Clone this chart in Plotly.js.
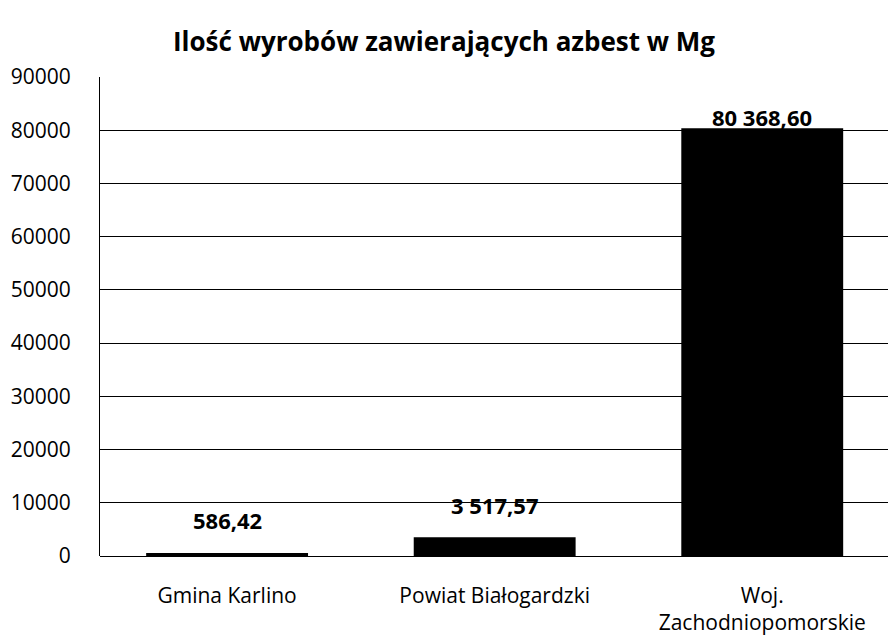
<!DOCTYPE html>
<html>
<head>
<meta charset="utf-8">
<script src="https://cdn.plot.ly/plotly-3.0.1.min.js"></script>
<style>html,body{margin:0;padding:0;background:#fff;}#chart{width:888px;height:637px;}</style>
</head>
<body>
<div id="chart"></div>
<script>
const categories = ["Gmina Karlino", "Powiat Białogardzki", "Woj.<br>Zachodniopomorskie"];
const values = [586.42, 3517.57, 80368.60];
const valueLabels = ["586,42", "3 517,57", "80 368,60"];
const yTicks = [0, 10000, 20000, 30000, 40000, 50000, 60000, 70000, 80000, 90000];

const labelShift = [33, 32, 11];

const trace = {
  type: 'bar',
  x: categories,
  y: values,
  marker: {color: '#000000'},
  width: 0.605,
  hoverinfo: 'none'
};

const annotations = categories.map((c, i) => ({
  x: c, y: values[i], xref: 'x', yref: 'y',
  text: '<b>' + valueLabels[i] + '</b>',
  showarrow: false, yanchor: 'middle', yshift: labelShift[i],
  font: {family: 'Open Sans', size: 22, color: '#000'}
}));

const layout = {
  width: 888, height: 637,
  margin: {l: 100, r: 0, t: 77, b: 81, pad: 0},
  paper_bgcolor: '#fff', plot_bgcolor: '#fff',
  title: {text: '<b>Ilość wyrobów zawierających azbest w Mg</b>', x: 0.5, xanchor: 'center', y: 0.935, yanchor: 'middle',
          font: {family: 'Open Sans', size: 26, color: '#000'}},
  showlegend: false,
  xaxis: {
    type: 'category',
    range: [-0.475, 2.47],
    showgrid: false, showline: false, zeroline: false,
    ticks: '', ticklabelstandoff: 25,
    tickfont: {family: 'Open Sans', size: 21, color: '#000'}
  },
  yaxis: {
    range: [0, 90000],
    tickvals: yTicks, ticktext: yTicks.map(String),
    showgrid: true, gridcolor: '#000', gridwidth: 1,
    zeroline: true, zerolinecolor: '#000', zerolinewidth: 1,
    showline: true, linecolor: '#000', linewidth: 1,
    ticks: '', ticklabelstandoff: 24,
    tickfont: {family: 'Open Sans', size: 21, color: '#000'}
  },
  annotations: annotations
};

Plotly.newPlot('chart', [trace], layout, {displayModeBar: false, staticPlot: true});
</script>
</body>
</html>
